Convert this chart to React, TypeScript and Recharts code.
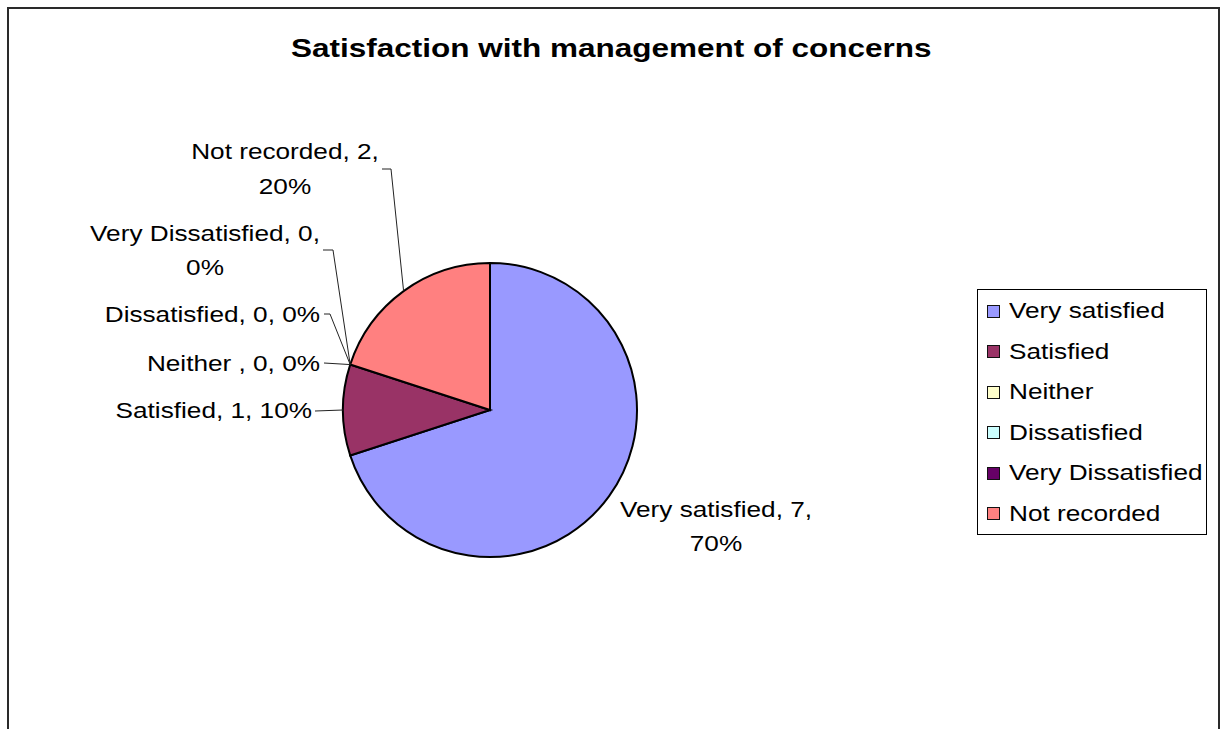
import React from 'react';
import {Cell, Legend, Pie, PieChart} from 'recharts';

const categories = ['Very satisfied', 'Satisfied', 'Neither ', 'Dissatisfied', 'Very Dissatisfied', 'Not recorded'];
const counts = [7, 1, 0, 0, 0, 2];
const colors = ['#9999FF', '#993366', '#FFFFCC', '#CCFFFF', '#660066', '#FF8080'];

const chartTitle = 'Satisfaction with management of concerns';

// where each data label sits, relative to the pie centre
const labelLayout = [
    {dx: 226, dy: 99, anchor: 'middle', split: true, gap: 34, lead: null, elbow: 0},
    {dx: -178, dy: 0, anchor: 'end', split: false, gap: 0, lead: [-175, 1], elbow: 0},
    {dx: -170, dy: -47, anchor: 'end', split: false, gap: 0, lead: [-166, -47], elbow: 0},
    {dx: -170, dy: -96, anchor: 'end', split: false, gap: 0, lead: [-166, -96], elbow: 6},
    {dx: -285, dy: -177, anchor: 'middle', split: true, gap: 34, lead: [-167, -160], elbow: 10},
    {dx: -205, dy: -259, anchor: 'middle', split: true, gap: 35, lead: [-108, -241], elbow: 9},
];

const FONT = '"Liberation Sans", Arial, sans-serif';
const STRETCH = 1.19;
const RADIAN = Math.PI / 180;

const data = categories.map((name, i) => ({name, value: counts[i]}));

const renderLabel = ({cx, cy, midAngle, outerRadius, percent, index, name, value}: any) => {
    const l = labelLayout[index];
    if (!l) return null;
    const pct = `${Math.round(percent * 100)}%`;
    const lines = l.split ? [`${name}, ${value},`, pct] : [`${name}, ${value}, ${pct}`];
    const x = cx + l.dx;
    const y = cy + l.dy;
    const ex = cx + outerRadius * Math.cos(-midAngle * RADIAN);
    const ey = cy + outerRadius * Math.sin(-midAngle * RADIAN);
    let leader = null;
    if (l.lead) {
        const sx = cx + l.lead[0];
        const sy = cy + l.lead[1];
        const pts = `${sx},${sy} ${sx + l.elbow},${sy} ${ex},${ey}`;
        leader = <polyline points={pts} fill="none" stroke="#222" strokeWidth={1}/>;
    }
    return (
        <g key={`lbl-${index}`}>
            {leader}
            {lines.map((t, k) => (
                <text key={k}
                      transform={`translate(${x},${y + k * l.gap}) scale(${STRETCH},1)`}
                      x={0} y={0}
                      textAnchor={l.anchor}
                      dominantBaseline="central"
                      fill="#000"
                      fontSize={22}
                      fontFamily={FONT}>
                    {t}
                </text>
            ))}
        </g>
    );
};

// legend drawn in the data's own order (recharts would sort it)
const renderLegend = () => (
    <div style={{
        width: 230, height: 246, boxSizing: 'border-box', border: '1px solid #000',
        background: '#fff', position: 'relative', fontFamily: FONT
    }}>
        {categories.map((name, i) => (
            <div key={i} style={{
                position: 'absolute', left: 9, top: 21 + i * 40.5 - 13, height: 26,
                display: 'flex', alignItems: 'center'
            }}>
                <div style={{
                    width: 13, height: 13, boxSizing: 'border-box',
                    border: '1.5px solid #111', background: colors[i]
                }}/>
                <span style={{
                    marginLeft: 9, fontSize: 22, color: '#000', whiteSpace: 'nowrap',
                    display: 'inline-block', transform: `scaleX(${STRETCH})`, transformOrigin: 'left center'
                }}>{name.trim()}</span>
            </div>
        ))}
    </div>
);

export default function App() {
    return (
        <div style={{position: 'absolute', left: 0, top: 0, width: 1223, height: 729, overflow: 'hidden', background: '#fff'}}>
            <div style={{
                position: 'absolute', left: 7, top: 7, width: 1213, height: 800,
                boxSizing: 'border-box', border: '2px solid #2a2a2a'
            }}/>
            <div style={{
                position: 'absolute', left: 0, top: 36, width: 1222, textAlign: 'center',
                fontFamily: FONT, fontWeight: 'bold', fontSize: 25, lineHeight: '25px', color: '#000'
            }}>
                <span style={{display: 'inline-block', transform: 'scaleX(1.26)', whiteSpace: 'nowrap'}}>{chartTitle}</span>
            </div>
            <div style={{position: 'absolute', left: 0, top: 0}}>
                <PieChart width={1223} height={729} margin={{top: 0, right: 0, bottom: 0, left: 0}}>
                    <Pie
                        data={data}
                        dataKey="value"
                        nameKey="name"
                        cx={490}
                        cy={410}
                        outerRadius={147}
                        startAngle={90}
                        endAngle={-270}
                        stroke="#000"
                        strokeWidth={2}
                        label={renderLabel}
                        labelLine={false}
                        isAnimationActive={false}
                    >
                        {data.map((entry, index) => (
                            <Cell key={index} fill={colors[index % colors.length]}/>
                        ))}
                    </Pie>
                    <Legend
                        content={renderLegend}
                        wrapperStyle={{left: 977, top: 289, width: 230, height: 246}}
                    />
                </PieChart>
            </div>
        </div>
    );
}
